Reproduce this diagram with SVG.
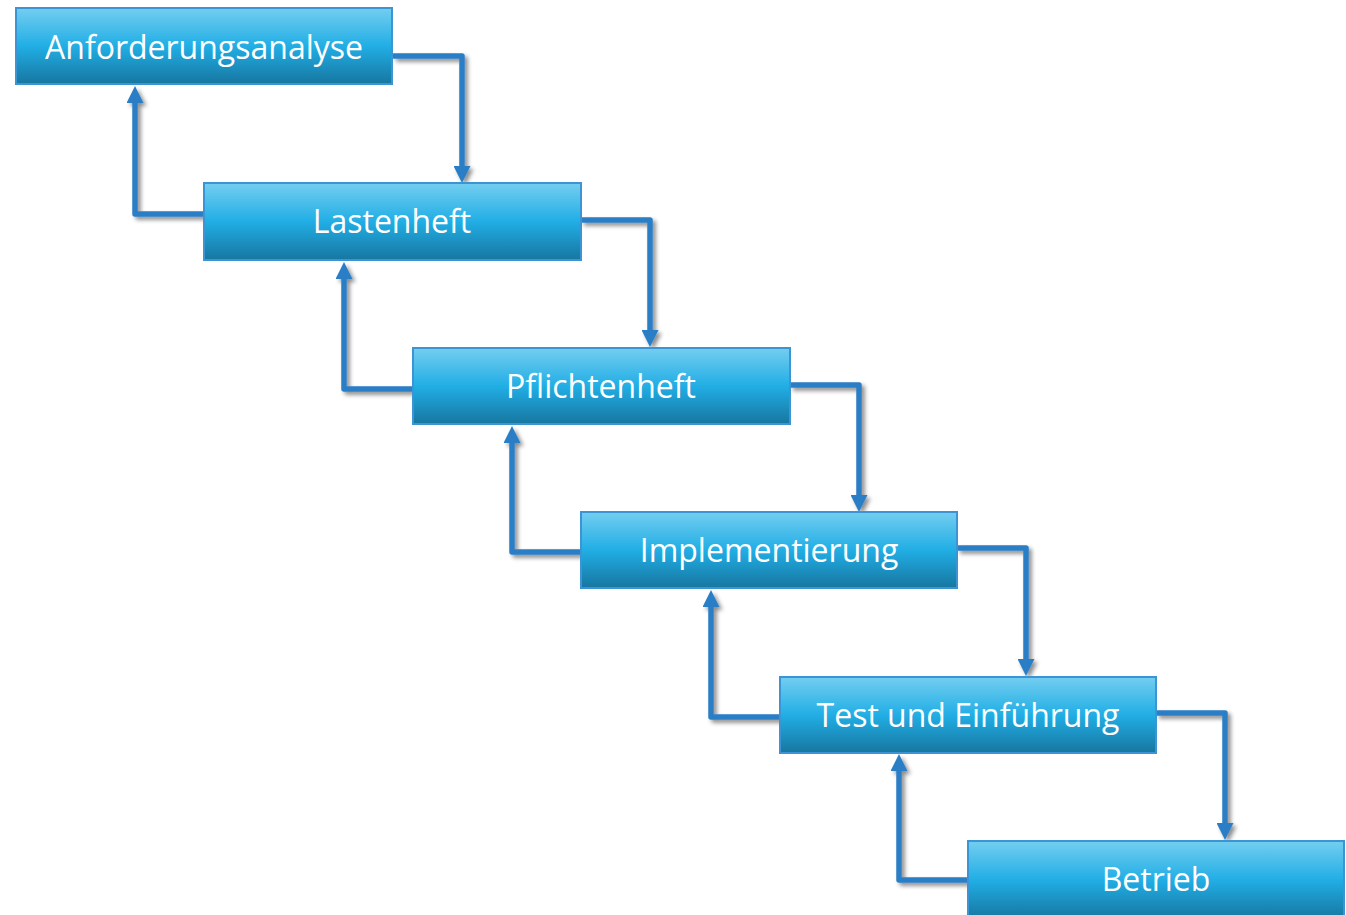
<svg xmlns="http://www.w3.org/2000/svg" width="1346" height="915" viewBox="0 0 1346 915">
  <defs>
    <linearGradient id="boxFill" x1="0" y1="0" x2="0" y2="1">
      <stop offset="0" stop-color="#74CEF0"/>
      <stop offset="0.5" stop-color="#21AEE5"/>
      <stop offset="1" stop-color="#1776A0"/>
    </linearGradient>
    <filter id="lineShadow" x="-20%" y="-20%" width="140%" height="140%">
      <feDropShadow dx="3" dy="3" stdDeviation="2" flood-color="#000" flood-opacity="0.45"/>
    </filter>
    <marker id="head" markerUnits="userSpaceOnUse" markerWidth="17" markerHeight="17" viewBox="0 0 17 17" refX="7" refY="8.5" orient="auto">
      <path d="M0,0 L17,8.5 L0,17 Z" fill="#2B7EC6"/>
    </marker>
  </defs>
  <style>
    .box { fill: url(#boxFill); stroke: #3C94D4; stroke-width: 2; }
    .label { font-family: "Open Sans", "Liberation Sans", sans-serif; font-size: 32px; fill: #FFFFFF; text-anchor: middle; }
    .conn { fill: none; stroke: #2B7EC6; stroke-width: 5.5; stroke-linejoin: round; marker-end: url(#head); }
  </style>

  <rect width="1346" height="915" fill="#FFFFFF"/>

  <!-- connectors: forward steps down, feedback steps up -->
  <g id="connectors" filter="url(#lineShadow)">
    <path class="conn" d="M393 56 H462 V173"/>
    <path class="conn" d="M581 220 H650 V337"/>
    <path class="conn" d="M790 385 H859 V502"/>
    <path class="conn" d="M957 548 H1026 V666"/>
    <path class="conn" d="M1156 713 H1225 V830"/>

    <path class="conn" d="M204 214 H135 V96"/>
    <path class="conn" d="M413 389 H344 V272"/>
    <path class="conn" d="M581 552 H512 V436"/>
    <path class="conn" d="M780 717 H711 V600"/>
    <path class="conn" d="M968 880 H899 V764"/>
  </g>

  <g id="anforderungsanalyse">
    <rect class="box" x="16" y="8" width="376" height="76"/>
    <text class="label" x="204" y="59">Anforderungsanalyse</text>
  </g>
  <g id="lastenheft">
    <rect class="box" x="204" y="183" width="377" height="77"/>
    <text class="label" x="392" y="233">Lastenheft</text>
  </g>
  <g id="pflichtenheft">
    <rect class="box" x="413" y="348" width="377" height="76"/>
    <text class="label" x="601" y="398">Pflichtenheft</text>
  </g>
  <g id="implementierung">
    <rect class="box" x="581" y="512" width="376" height="76"/>
    <text class="label" x="769" y="562">Implementierung</text>
  </g>
  <g id="test-einfuehrung">
    <rect class="box" x="780" y="677" width="376" height="76"/>
    <text class="label" x="968" y="727">Test und Einführung</text>
  </g>
  <g id="betrieb">
    <rect class="box" x="968" y="841" width="376" height="78"/>
    <text class="label" x="1156" y="891">Betrieb</text>
  </g>
</svg>
